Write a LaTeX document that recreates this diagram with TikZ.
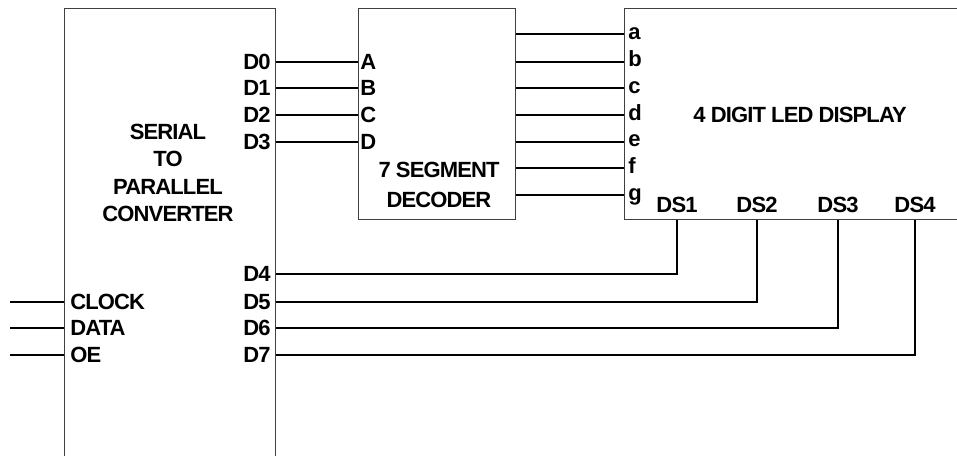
\documentclass[tikz,border=0pt]{standalone}
\usepackage{fontspec}
\setmainfont{Liberation Sans}[LetterSpace=-4]

\begin{document}
\begin{tikzpicture}[
    x=0.5pt, y=-0.5pt,
    font=\fontsize{11}{13.7}\selectfont\bfseries,
    block/.style={draw=black!75, line width=0.5pt, anchor=north west, inner sep=0pt},
    pinl/.style={anchor=east, inner sep=1pt},
    pinr/.style={anchor=west, inner sep=1pt},
    seg/.style={anchor=mid west, inner sep=1pt},
    title/.style={align=center, inner sep=0pt},
    wire/.style={line width=1pt, black}
]

    \clip (0,0) rectangle (957,455);

    % The three blocks; the converter and the display run past the page edge.
    \node[block, minimum width=105.5pt, minimum height=250pt] (conv) at (64,8) {};
    \node[block, minimum width=78.5pt, minimum height=105.5pt] (dec) at (358,8) {};
    \node[block, minimum width=200pt, minimum height=105.5pt] (disp) at (624,8) {};

    \node[title] (convtitle) at (168,173) {SERIAL\\TO\\PARALLEL\\CONVERTER};
    \node[title, font=\fontsize{11}{15}\selectfont\bfseries] (dectitle) at (439,185) {7 SEGMENT\\DECODER};
    \node[title] (disptitle) at (800,115) {4 DIGIT LED DISPLAY};

    % Converter outputs
    \node[pinl] (d0) at (273,61.7) {D0};
    \node[pinl] (d1) at (273,88.3) {D1};
    \node[pinl] (d2) at (273,115) {D2};
    \node[pinl] (d3) at (273,141.7) {D3};
    \node[pinl] (d4) at (273,274.3) {D4};
    \node[pinl] (d5) at (273,301.7) {D5};
    \node[pinl] (d6) at (273,328.3) {D6};
    \node[pinl] (d7) at (273,355) {D7};

    % Converter inputs
    \node[pinr] (clock) at (68,301.7) {CLOCK};
    \node[pinr] (data) at (68,328.3) {DATA};
    \node[pinr] (oe) at (68,355) {OE};
    \coordinate (clockin) at (10,301.7);
    \coordinate (datain) at (10,328.3);
    \coordinate (oein) at (10,355);

    % Decoder inputs
    \node[pinr] (pA) at (358,61.7) {A};
    \node[pinr] (pB) at (358,88.3) {B};
    \node[pinr] (pC) at (358,115) {C};
    \node[pinr] (pD) at (358,141.7) {D};

    % Display segment inputs
    \node[seg] (pa) at (626,34.3) {a};
    \node[seg] (pb) at (626,61.7) {b};
    \node[seg] (pc) at (626,88.3) {c};
    \node[seg] (pd) at (626,115) {d};
    \node[seg] (pe) at (626,141.7) {e};
    \node[seg] (pf) at (626,168.3) {f};
    \node[seg] (pg) at (626,195) {g};

    % Digit selects
    \node (ds1) at (677,205) {DS1};
    \node (ds2) at (757,205) {DS2};
    \node (ds3) at (838,205) {DS3};
    \node (ds4) at (915,205) {DS4};

    \draw[wire] (clockin) -- (conv.west |- clock.west);
    \draw[wire] (datain) -- (conv.west |- data.west);
    \draw[wire] (oein) -- (conv.west |- oe.west);

    \draw[wire] (conv.east |- d0.east) -- (dec.west |- pA.west);
    \draw[wire] (conv.east |- d1.east) -- (dec.west |- pB.west);
    \draw[wire] (conv.east |- d2.east) -- (dec.west |- pC.west);
    \draw[wire] (conv.east |- d3.east) -- (dec.west |- pD.west);

    \draw[wire] (dec.east |- pa.mid west) -- (disp.west |- pa.mid west);
    \draw[wire] (dec.east |- pb.mid west) -- (disp.west |- pb.mid west);
    \draw[wire] (dec.east |- pc.mid west) -- (disp.west |- pc.mid west);
    \draw[wire] (dec.east |- pd.mid west) -- (disp.west |- pd.mid west);
    \draw[wire] (dec.east |- pe.mid west) -- (disp.west |- pe.mid west);
    \draw[wire] (dec.east |- pf.mid west) -- (disp.west |- pf.mid west);
    \draw[wire] (dec.east |- pg.mid west) -- (disp.west |- pg.mid west);

    % Digit select lines drop from the display and run back to D4..D7
    \draw[wire] (conv.east |- d4.east) -| (ds1.south |- disp.south);
    \draw[wire] (conv.east |- d5.east) -| (ds2.south |- disp.south);
    \draw[wire] (conv.east |- d6.east) -| (ds3.south |- disp.south);
    \draw[wire] (conv.east |- d7.east) -| (ds4.south |- disp.south);

\end{tikzpicture}
\end{document}
